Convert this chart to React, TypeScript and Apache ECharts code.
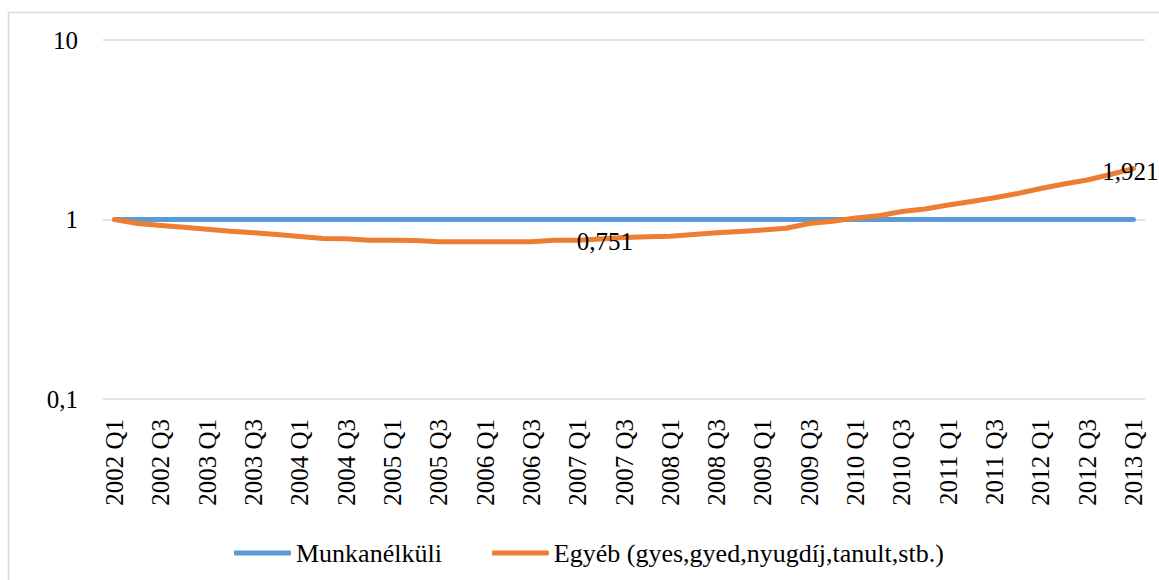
import React, { useEffect, useRef } from "react";
import * as echarts from "echarts";

const years = [2002, 2003, 2004, 2005, 2006, 2007, 2008, 2009, 2010, 2011, 2012, 2013];
const quarters = ["Q1", "Q2", "Q3", "Q4"];
const categories: string[] = [];
years.forEach((y) => quarters.forEach((q) => categories.push(`${y} ${q}`)));
categories.splice(45);

const seriesNames = ["Munkanélküli", "Egyéb (gyes,gyed,nyugdíj,tanult,stb.)"];

const munkanelkuli = [
  1, 1, 1, 1, 1, 1, 1, 1, 1, 1, 1, 1, 1, 1, 1, 1, 1, 1, 1, 1, 1, 1, 1,
  1, 1, 1, 1, 1, 1, 1, 1, 1, 1, 1, 1, 1, 1, 1, 1, 1, 1, 1, 1, 1, 1,
];

const egyeb = [
  1.0, 0.95, 0.926, 0.906, 0.883, 0.861, 0.843, 0.825, 0.804, 0.784, 0.78, 0.766,
  0.766, 0.765, 0.751, 0.751, 0.751, 0.751, 0.752, 0.767, 0.767, 0.779, 0.794,
  0.802, 0.806, 0.825, 0.843, 0.857, 0.874, 0.894, 0.95, 0.978, 1.02, 1.05,
  1.108, 1.144, 1.204, 1.26, 1.321, 1.396, 1.488, 1.577, 1.66, 1.78, 1.921,
];

const labelledIndex = [21, 44];
const minValue = Math.min(...egyeb);

const fmt = (v: number) => String(v).replace(".", ",");

export default function App() {
  const ref = useRef<HTMLDivElement>(null);
  useEffect(() => {
    if (!ref.current) return;
    const chart = echarts.init(ref.current, undefined, { renderer: "svg" });
    const font = "Liberation Serif";
    chart.setOption({
      animation: false,
      backgroundColor: "#ffffff",
      textStyle: { fontFamily: font },
      grid: { left: 103, right: 14, top: 40, bottom: 181, containLabel: false },
      graphic: [
        {
          type: "rect",
          shape: { x: 8.5, y: 12.5, width: 1200, height: 600 },
          style: { fill: "none", stroke: "#d9d9d9", lineWidth: 1.5 },
          silent: true,
        },
      ],
      legend: {
        left: 229,
        top: 535,
        itemWidth: 57,
        itemHeight: 5,
        itemGap: 50,
        icon: "roundRect",
        textStyle: { fontFamily: font, fontSize: 26, color: "#000" },
        data: seriesNames,
      },
      xAxis: {
        type: "category",
        data: categories,
        boundaryGap: true,
        axisLine: { show: false },
        axisTick: { show: false },
        axisLabel: {
          interval: 1,
          rotate: 90,
          margin: 20,
          fontFamily: font,
          fontSize: 25,
          color: "#000",
        },
      },
      yAxis: {
        type: "log",
        logBase: 10,
        min: 0.1,
        max: 10,
        axisLine: { show: false },
        axisTick: { show: false },
        splitLine: { show: true, lineStyle: { color: "#d9d9d9", width: 1.5 } },
        axisLabel: {
          margin: 25,
          fontFamily: font,
          fontSize: 25,
          color: "#000",
          formatter: (v: number) => fmt(v),
        },
      },
      series: [
        {
          name: seriesNames[0],
          type: "line",
          data: munkanelkuli,
          showSymbol: false,
          symbol: "none",
          lineStyle: { color: "#5B9BD5", width: 5, cap: "round" },
          itemStyle: { color: "#5B9BD5" },
          z: 2,
        },
        {
          name: seriesNames[1],
          type: "line",
          data: egyeb.map((v, i) =>
            labelledIndex.includes(i)
              ? {
                  value: v,
                  label: {
                    show: true,
                    position: "inside",
                    offset: i === 44 ? [-3, 3] : [4, 3],
                    fontFamily: font,
                    fontSize: 25,
                    color: "#000",
                    formatter: () => fmt(i === 44 ? v : minValue),
                  },
                }
              : v
          ),
          showSymbol: true,
          showAllSymbol: true,
          symbol: "circle",
          symbolSize: 0,
          lineStyle: { color: "#ED7D31", width: 5, cap: "round", join: "round" },
          itemStyle: { color: "#ED7D31" },
          z: 3,
        },
      ],
    });
    return () => chart.dispose();
  }, []);
  return (
    <div
      ref={ref}
      style={{ position: "absolute", left: 0, top: 0, width: 1159, height: 580 }}
    />
  );
}
